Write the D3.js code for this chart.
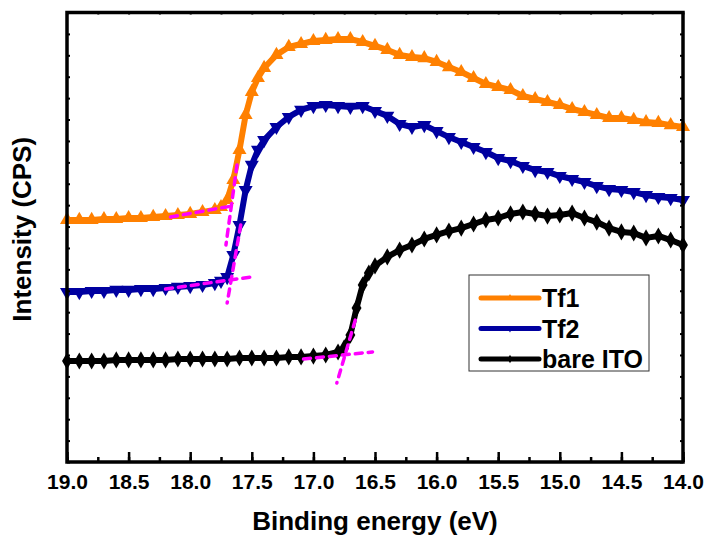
<!DOCTYPE html>
<html>
<head>
<meta charset="utf-8">
<script src="https://cdn.jsdelivr.net/npm/d3@7"></script>
<style>
  body { margin: 0; background: #fff; }
  text { font-family: "Liberation Sans", Arial, sans-serif; font-weight: bold; }
</style>
</head>
<body>
<div id="chart_wrapper"></div>
<script>
var width = 704, height = 538;
var margin = {left: 67, right: 21, top: 12.5, bottom: 76};

// binding energy (eV) sample positions
var energyTf1 = [19.0,18.9,18.8,18.7,18.6,18.5,18.4,18.3,18.2,18.1,18.0,17.9,17.8,17.75,17.7,17.65,17.6,17.55,17.5,17.45,17.4,17.3,17.2,17.1,17.0,16.9,16.8,16.7,16.6,16.5,16.4,16.3,16.2,16.1,16.0,15.9,15.8,15.7,15.6,15.5,15.4,15.3,15.2,15.1,15.0,14.9,14.8,14.7,14.6,14.5,14.4,14.3,14.2,14.1,14.0];
var tf1 = [1131,1131,1131,1135,1135,1140,1140,1145,1149,1154,1159,1168,1177,1191,1224,1318,1458,1621,1729,1794,1841,1902,1939,1953,1967,1972,1976,1976,1962,1944,1925,1902,1892,1887,1869,1845,1822,1794,1766,1752,1738,1710,1696,1682,1668,1649,1635,1621,1607,1607,1598,1588,1584,1574,1565];

var energyTf2 = energyTf1;
var tf2 = [794,794,799,799,804,804,808,808,813,818,822,827,836,846,864,967,1107,1271,1388,1458,1504,1565,1612,1645,1663,1668,1663,1659,1663,1640,1617,1579,1565,1574,1546,1518,1495,1472,1448,1420,1406,1383,1364,1355,1336,1322,1308,1289,1275,1271,1261,1247,1238,1233,1224];

var energyITO = [19.0,18.9,18.8,18.7,18.6,18.5,18.4,18.3,18.2,18.1,18.0,17.9,17.8,17.7,17.6,17.5,17.4,17.3,17.2,17.1,17.0,16.9,16.8,16.75,16.7,16.65,16.6,16.55,16.5,16.4,16.3,16.2,16.1,16.0,15.9,15.8,15.7,15.6,15.5,15.4,15.3,15.2,15.1,15.0,14.9,14.8,14.7,14.6,14.5,14.4,14.3,14.2,14.1,14.0];
var ito = [472,472,472,472,477,477,477,477,477,481,481,481,481,481,486,486,486,486,491,491,495,500,514,533,593,719,827,883,916,958,990,1014,1042,1061,1079,1093,1112,1131,1140,1159,1168,1159,1149,1154,1163,1140,1121,1093,1075,1070,1047,1056,1037,1014];

var seriesNames = ["Tf1", "Tf2", "bare ITO"];
var seriesColors = ["#ff8000", "#0000a0", "#000000"];

// onset tangent lines [eV, intensity]
var tangents = [
  [[18.16,1145],[17.66,1196]], [[17.62,1388],[17.71,1014]],
  [[18.20,808],[17.51,864]],   [[17.59,1107],[17.70,743]],
  [[17.08,481],[16.52,514]],   [[16.66,663],[16.81,369]]
];

var xTicks = [19.0,18.5,18.0,17.5,17.0,16.5,16.0,15.5,15.0,14.5,14.0];

var w = width - margin.left - margin.right;
var h = height - margin.top - margin.bottom;

var svg = d3.select("#chart_wrapper").append("svg")
    .attr("width", width).attr("height", height)
    .append("g").attr("transform", "translate(" + margin.left + "," + margin.top + ")");

var x = d3.scaleLinear().domain([19, 14]).range([0, w]);
var y = d3.scaleLinear().domain([0, 2100]).range([h, 0]);

var series = [
  {name: seriesNames[0], color: seriesColors[0], symbol: d3.symbolTriangle, rot: 0, data: d3.zip(energyTf1, tf1)},
  {name: seriesNames[1], color: seriesColors[1], symbol: d3.symbolTriangle, rot: 180, data: d3.zip(energyTf2, tf2)},
  {name: seriesNames[2], color: seriesColors[2], symbol: d3.symbolDiamond, rot: 0, data: d3.zip(energyITO, ito)}
];

var line = d3.line().x(d => x(d[0])).y(d => y(d[1]));

series.forEach(function(s) {
  svg.append("path").datum(s.data)
    .attr("d", line).attr("fill", "none")
    .attr("stroke", s.color).attr("stroke-width", 6).attr("stroke-linejoin", "round");
  svg.selectAll(null).data(s.data).enter().append("path")
    .attr("d", d3.symbol().type(s.symbol).size(85))
    .attr("fill", s.color)
    .attr("transform", d => "translate(" + x(d[0]) + "," + y(d[1]) + ") rotate(" + s.rot + ")");
});

// magenta tangent lines
svg.selectAll(".tangent").data(tangents).enter().append("path")
  .attr("class", "tangent")
  .attr("d", line).attr("fill", "none")
  .attr("stroke", "#ff00ff").attr("stroke-width", 3.5)
  .attr("stroke-dasharray", "7,6").attr("stroke-linecap", "round");

// axes: ticks inside on all four sides
var xMinor = d3.range(19, 13.99, -0.25);
svg.append("g").attr("transform", "translate(0," + h + ")")
  .call(d3.axisBottom(x).tickValues(xMinor).tickSize(-5).tickFormat(""))
  .call(g => g.selectAll("line").attr("stroke-width", 2.5));
svg.append("g").attr("transform", "translate(0," + h + ")")
  .call(d3.axisBottom(x).tickValues(xTicks).tickSize(-10).tickPadding(12).tickFormat(d3.format(".1f")))
  .call(g => g.selectAll("line").attr("stroke-width", 2.5))
  .call(g => g.selectAll("text").attr("font-size", 21).attr("fill", "#000"));
svg.append("g")
  .call(d3.axisTop(x).tickValues(xMinor).tickSize(-2).tickFormat(""))
  .call(g => g.selectAll("line").attr("stroke-width", 2));
svg.append("g")
  .call(d3.axisLeft(y).ticks(21).tickSize(-3).tickFormat(""))
  .call(g => g.selectAll("line").attr("stroke-width", 2));
svg.append("g").attr("transform", "translate(" + w + ",0)")
  .call(d3.axisRight(y).ticks(21).tickSize(-3).tickFormat(""))
  .call(g => g.selectAll("line").attr("stroke-width", 2));
svg.selectAll(".domain").remove();

svg.append("rect").attr("width", w).attr("height", h)
  .attr("fill", "none").attr("stroke", "#000").attr("stroke-width", 3.5);

// axis titles
svg.append("text").attr("x", w / 2).attr("y", h + 68)
  .attr("text-anchor", "middle").attr("font-size", 26).text("Binding energy (eV)");
svg.append("text").attr("transform", "translate(-36," + (h / 2 - 8) + ") rotate(-90)")
  .attr("text-anchor", "middle").attr("font-size", 26).text("Intensity (CPS)");

// legend
var legend = svg.append("g").attr("transform", "translate(" + (469 - margin.left) + "," + (275 - margin.top) + ")");
legend.append("rect").attr("width", 180).attr("height", 96)
  .attr("fill", "#fff").attr("stroke", "#333").attr("stroke-width", 1);
var item = legend.selectAll(".item").data(series).enter().append("g")
  .attr("transform", (d, i) => "translate(0," + (23 + i * 30.5) + ")");
item.append("line").attr("x1", 12).attr("x2", 70)
  .attr("stroke", d => d.color).attr("stroke-width", 5).attr("stroke-linecap", "round");
item.append("path")
  .attr("d", d => d3.symbol().type(d.symbol).size(20)())
  .attr("fill", d => d.color)
  .attr("transform", d => "translate(41,0) rotate(" + d.rot + ")");
item.append("text").attr("x", 73).attr("y", 9).attr("font-size", 25).text(d => d.name);
</script>
</body>
</html>
